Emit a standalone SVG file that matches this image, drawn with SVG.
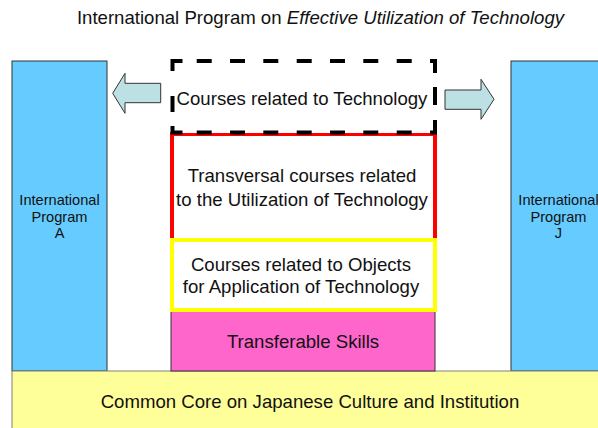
<svg xmlns="http://www.w3.org/2000/svg" width="598" height="428" viewBox="0 0 598 428">
<style>
text{font-family:"Liberation Sans",Arial,sans-serif;fill:#111;text-anchor:middle}
.big{font-size:18.6px}
.side{font-size:14.6px}
.blue{fill:#66CCFF;stroke:#333;stroke-width:1}
.arrow{fill:#BCE0E3;stroke:#333;stroke-width:1}
.dash{stroke:#000;stroke-width:4;fill:none}
</style>
<rect width="598" height="428" fill="#fff"/>
<text class="big" x="320.5" y="24">International Program on <tspan font-style="italic">Effective Utilization of Technology</tspan></text>

<g id="programA">
<rect class="blue" x="12" y="61" width="95" height="310"/>
<text class="side" x="59.5" y="205">International</text>
<text class="side" x="59.5" y="221.5">Program</text>
<text class="side" x="59.5" y="238">A</text>
</g>
<g id="programJ">
<rect class="blue" x="511" y="61" width="95" height="310"/>
<text class="side" x="558.5" y="205">International</text>
<text class="side" x="558.5" y="221.5">Program</text>
<text class="side" x="558.5" y="238">J</text>
</g>

<g id="commonCore">
<rect x="12" y="371" width="596" height="70" fill="#FFFF99" stroke="#808080" stroke-width="1"/>
<text class="big" x="310" y="408">Common Core on Japanese Culture and Institution</text>
</g>

<g id="transferable">
<rect x="171" y="311" width="264" height="60" fill="#FF66CC" stroke="#333" stroke-width="1"/>
<text class="big" x="303" y="348">Transferable Skills</text>
</g>

<g id="transversal">
<rect x="172" y="134" width="263" height="106" fill="#fff" stroke="#FF0000" stroke-width="4"/>
<text class="big" x="302" y="182">Transversal courses related</text>
<text class="big" x="302" y="206">to the Utilization of Technology</text>
</g>

<g id="objects">
<rect x="172" y="240" width="263" height="70" fill="#fff" stroke="#FFFF00" stroke-width="4"/>
<text class="big" x="301" y="271">Courses related to Objects</text>
<text class="big" x="301" y="293">for Application of Technology</text>
</g>

<g id="technology">
<rect x="172" y="61" width="263" height="72" fill="#fff"/>
<path class="dash" d="M170.5,61H182.5M196.7,61H211.7M230,61H245M263.3,61H278.3M296.7,61H311.7M330,61H345M363.3,61H378.3M396.7,61H411.7M430,61H437
M170.5,132.5H182.5M196.7,132.5H211.7M230,132.5H245M263.3,132.5H278.3M296.7,132.5H311.7M330,132.5H345M363.3,132.5H378.3M396.7,132.5H411.7M430,132.5H437
M172.5,59V71M172.5,96V112M172.5,126V134.5
M435,59V73M435,87V105M435,120V134.5"/>
<text class="big" x="302" y="104.5">Courses related to Technology</text>
</g>

<g id="connectors">
<path class="arrow" d="M160.7,83.3H125V73.3L112.7,93.3L125,113.3V102.7H160.7Z"/>
<path class="arrow" d="M445,90H481V79.3L494,99.3L481,119.3V109.3H445Z"/>
</g>
</svg>
